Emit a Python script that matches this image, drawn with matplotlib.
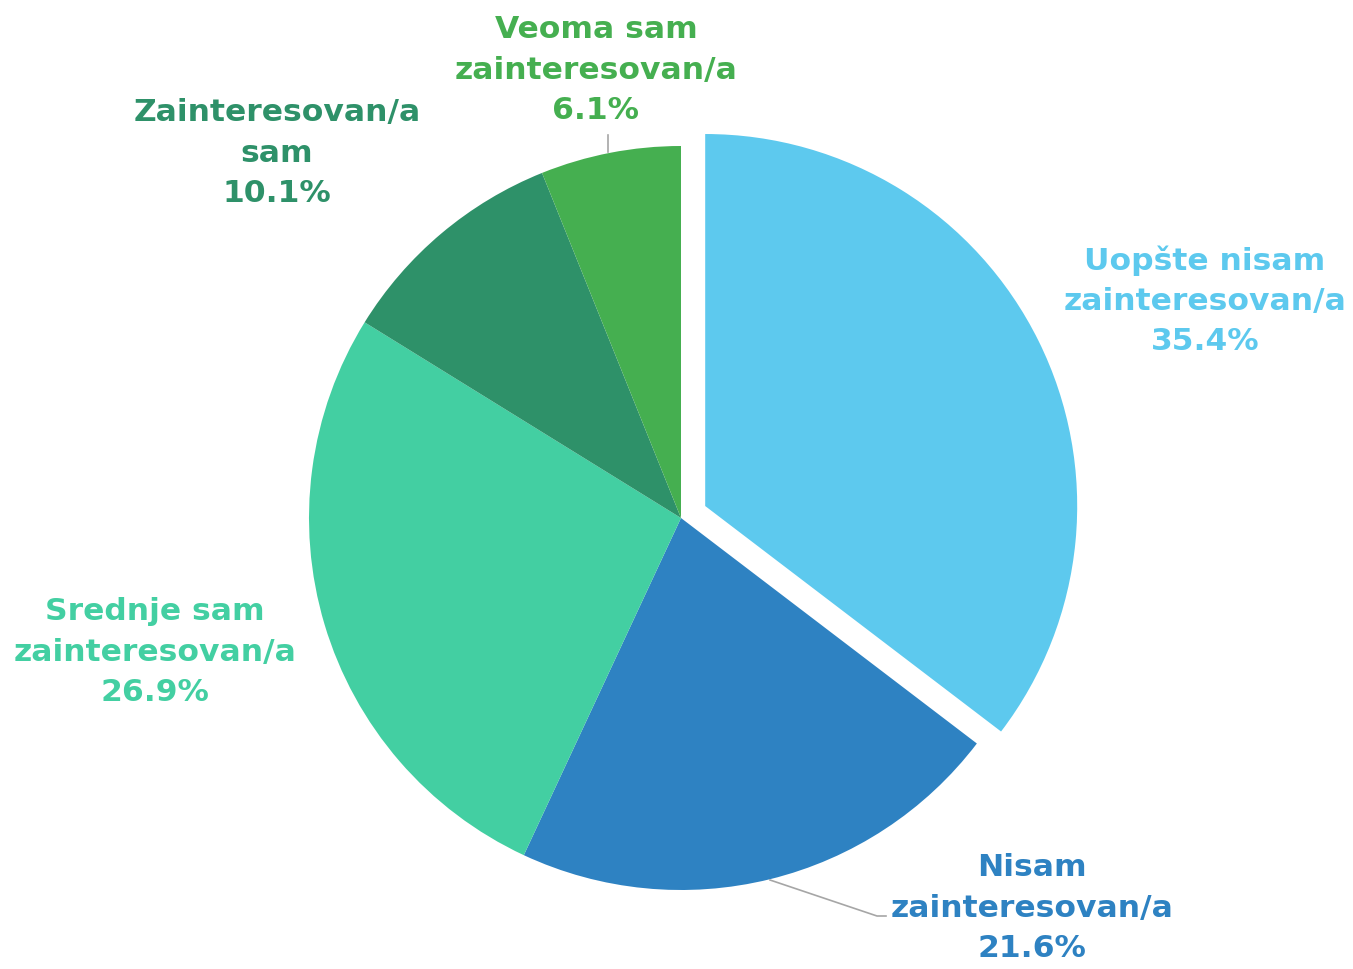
import matplotlib
matplotlib.use("Agg")
import matplotlib.pyplot as plt

categories = ["Uopšte nisam\nzainteresovan/a", "Nisam\nzainteresovan/a",
              "Srednje sam\nzainteresovan/a", "Zainteresovan/a\nsam",
              "Veoma sam\nzainteresovan/a"]
values = [35.4, 21.6, 26.9, 10.1, 6.1]
colors = ["#5DC9EE", "#2E82C2", "#43CFA2", "#2E9169", "#45AF50"]

W, H = 1353, 969
fig = plt.figure(figsize=(W / 100, H / 100), dpi=100)
ax = fig.add_axes([0, 0, 1, 1])

cx, cy, r = 681, H - 518, 372
explode = [27, 0, 0, 0, 0]
ax.pie(values, colors=colors, startangle=90, counterclock=False,
       center=(cx, cy), radius=r, explode=explode, normalize=True,
       wedgeprops=dict(linewidth=0), frame=True)
ax.set_xlim(0, W)
ax.set_ylim(0, H)
ax.set_aspect("equal")
ax.axis("off")

# label positions (pixels from top-left)
label_pos = [(1205, 301), (1032, 908), (155, 652), (277, 153), (596, 70)]
for cat, v, c, (px, py) in zip(categories, values, colors, label_pos):
    ax.text(px, H - py, f"{cat}\n{v:.1f}%", color=c, fontsize=22.6,
            fontweight="bold", ha="center", va="center",
            family="DejaVu Sans", linespacing=1.48)

# leader lines
ax.plot([608, 608], [H - 152, H - 135], color="#A6A6A6", lw=1.2)
ax.plot([770, 877, 886], [H - 880, H - 916, H - 916], color="#A6A6A6", lw=1.2)

fig.savefig("out.png", dpi=100)
